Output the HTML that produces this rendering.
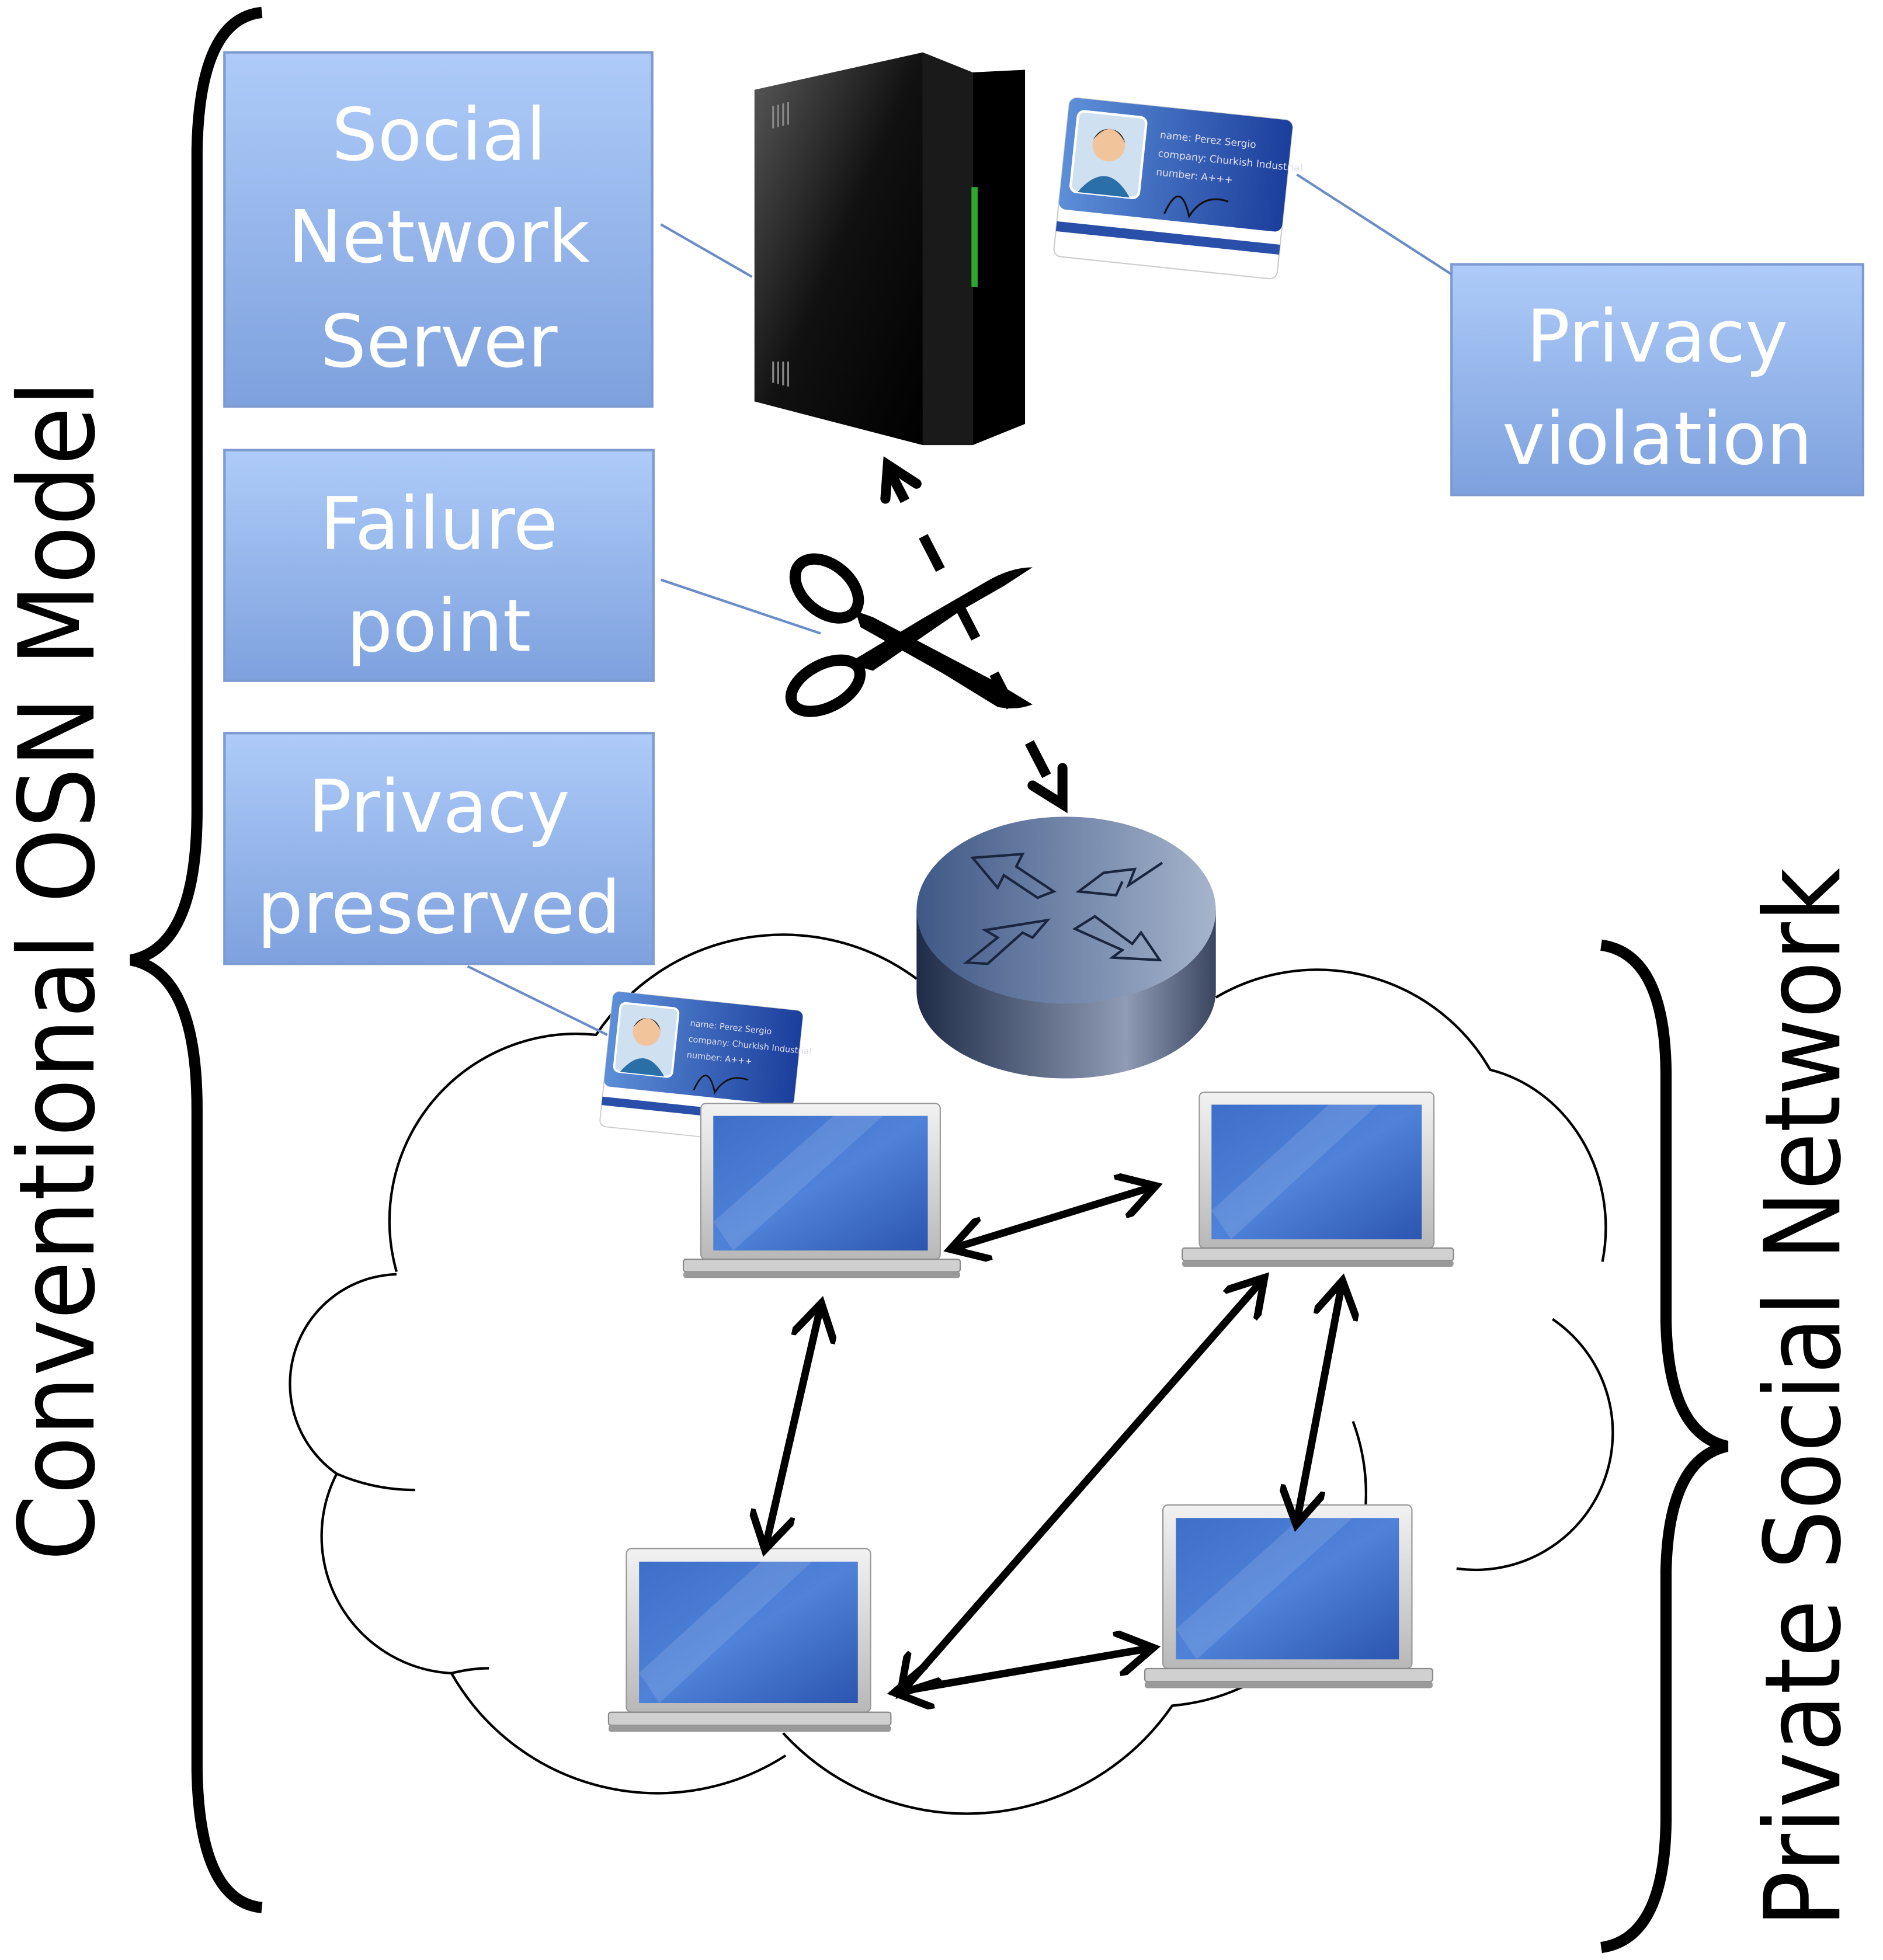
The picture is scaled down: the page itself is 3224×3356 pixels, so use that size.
<!DOCTYPE html>
<html><head><meta charset="utf-8"><style>
html,body{margin:0;padding:0;background:#fff}
svg{display:block}
text{font-family:"DejaVu Sans","Liberation Sans",sans-serif}
</style></head><body>
<svg width="3224" height="3356" viewBox="0 0 1510 1572" preserveAspectRatio="none" xmlns="http://www.w3.org/2000/svg">
<defs>
<linearGradient id="box" x1="0" y1="0" x2="0" y2="1"><stop offset="0" stop-color="#aecbf8"/><stop offset="1" stop-color="#7ea1de"/></linearGradient>
<linearGradient id="srv" x1="0" y1="0" x2="1" y2="1"><stop offset="0" stop-color="#5a5a5a"/><stop offset="0.5" stop-color="#111"/><stop offset="1" stop-color="#000"/></linearGradient>
<linearGradient id="scr" x1="0" y1="0" x2="1" y2="1"><stop offset="0" stop-color="#3d6fc9"/><stop offset="0.5" stop-color="#4f82d8"/><stop offset="1" stop-color="#2c55b0"/></linearGradient>
<linearGradient id="frm" x1="0" y1="0" x2="0" y2="1"><stop offset="0" stop-color="#f2f2f2"/><stop offset="1" stop-color="#b8b8b8"/></linearGradient>
<linearGradient id="rtop" x1="0" y1="0" x2="1" y2="0"><stop offset="0" stop-color="#3f5886"/><stop offset="1" stop-color="#a6b4cc"/></linearGradient>
<linearGradient id="rside" x1="0" y1="0" x2="1" y2="0"><stop offset="0" stop-color="#1f2c48"/><stop offset="0.7" stop-color="#8f9bb4"/><stop offset="1" stop-color="#3a4560"/></linearGradient>
<linearGradient id="card" x1="0" y1="0" x2="1" y2="0"><stop offset="0" stop-color="#5d8fd8"/><stop offset="1" stop-color="#1b3e9c"/></linearGradient>
<g id="laptop">
<rect x="14" y="0" width="192" height="125" rx="4" fill="url(#frm)" stroke="#999" stroke-width="1"/>
<rect x="24" y="10" width="172" height="108" fill="url(#scr)"/>
<path d="M24 95 L120 10 L160 10 L40 118 Z" fill="#fff" opacity="0.12"/>
<rect x="0" y="125" width="222" height="10" rx="2" fill="#d0d0d0" stroke="#888" stroke-width="1"/>
<rect x="0" y="135" width="222" height="5" rx="2" fill="#999"/>
</g>
<g id="idcard">
<g transform="rotate(6)">
<rect x="0" y="0" width="180" height="128" rx="6" fill="#fff" stroke="#ccc"/>
<rect x="0" y="0" width="180" height="90" rx="6" fill="url(#card)"/>
<rect x="8" y="10" width="55" height="65" rx="5" fill="#cfe0f0" stroke="#fff" stroke-width="2"/>
<circle cx="35" cy="35" r="13" fill="#f2c49b"/>
<path d="M22 32 Q35 12 48 32 Q44 22 35 22 Q26 22 22 32Z" fill="#222"/>
<path d="M14 75 Q35 45 56 75Z" fill="#2a6fa8"/>
<text x="75" y="25" font-size="8" fill="#dde">name: Perez Sergio</text>
<text x="75" y="40" font-size="8" fill="#dde">company: Churkish Industrial</text>
<text x="75" y="55" font-size="8" fill="#dde">number: A+++</text>
<path d="M85 85 q10 -30 20 0 q10 -20 30 -15" stroke="#111" fill="none" stroke-width="1.5"/>
<rect x="0" y="100" width="180" height="8" fill="#2a4fa8"/>
</g>
</g>
<marker id="ah" markerWidth="6" markerHeight="6" refX="4.5" refY="3" orient="auto-start-reverse" markerUnits="strokeWidth"><path d="M0 0 L5 3 L0 6" fill="none" stroke="#000" stroke-width="1"/></marker>
</defs>

<!-- left brace -->
<path d="M210 10 Q160 15 158 120 L158 650 Q158 760 105 770 Q158 780 158 890 L158 1420 Q160 1525 210 1530" fill="none" stroke="#000" stroke-width="9"/>
<text transform="translate(75,1252) rotate(-90)" font-size="84" fill="#000" textLength="947" lengthAdjust="spacingAndGlyphs">Conventional OSN Model</text>

<!-- right brace -->
<path d="M1284 758 Q1335 765 1336 860 L1336 1060 Q1338 1150 1385 1160 Q1338 1170 1336 1260 L1336 1460 Q1335 1555 1284 1562" fill="none" stroke="#000" stroke-width="9"/>
<text transform="translate(1475,1546) rotate(-90)" font-size="84" fill="#000" textLength="850" lengthAdjust="spacingAndGlyphs">Private Social Network</text>

<!-- cloud -->
<path d="M318 1020 A150 150 0 0 1 478 830 A180 180 0 0 1 735 785 M975 800 A160 160 0 0 1 1195 858 A120 130 0 0 1 1285 1012 M1245 1058 A110 110 0 0 1 1168 1258 M1085 1140 A170 170 0 0 1 940 1368 A200 200 0 0 1 628 1390 M630 1408 A190 190 0 0 1 362 1342 A110 110 0 0 1 270 1182 A88 88 0 0 1 318 1022" fill="none" stroke="#000" stroke-width="2"/>
<path d="M270 1182 Q300 1195 333 1195" fill="none" stroke="#000" stroke-width="2"/>
<path d="M362 1342 Q378 1338 392 1338" fill="none" stroke="#000" stroke-width="2"/>

<!-- boxes -->
<g stroke="#7d9bd0" stroke-width="2" fill="url(#box)">
<rect x="180" y="42" width="343" height="284"/>
<rect x="180" y="361" width="344" height="185"/>
<rect x="180" y="588" width="344" height="185"/>
<rect x="1164" y="212" width="330" height="185"/>
</g>
<g fill="#fff" font-size="58" text-anchor="middle" font-family="Liberation Sans, sans-serif">
<text x="352" y="128">Social</text>
<text x="352" y="210">Network</text>
<text x="352" y="294">Server</text>
<text x="352" y="440">Failure</text>
<text x="352" y="522">point</text>
<text x="352" y="667">Privacy</text>
<text x="352" y="748">preserved</text>
<text x="1329" y="290">Privacy</text>
<text x="1329" y="372">violation</text>
</g>

<!-- connector lines -->
<g stroke="#6a8cc8" stroke-width="2">
<line x1="530" y1="180" x2="603" y2="222"/>
<line x1="1040" y1="140" x2="1164" y2="220"/>
<line x1="530" y1="465" x2="658" y2="508"/>
<line x1="375" y1="775" x2="487" y2="830"/>
</g>

<!-- server -->
<path d="M605 72 L740 42 L740 357 L605 322 Z" fill="url(#srv)"/>
<path d="M740 42 L780 58 L780 357 L740 357Z" fill="#1a1a1a"/>
<path d="M780 58 L822 56 L822 340 L780 357Z" fill="#000"/>
<rect x="779" y="150" width="5" height="80" fill="#2ea82e"/>
<g stroke="#888" stroke-width="1.5"><line x1="620" y1="85" x2="620" y2="103"/><line x1="624" y1="84" x2="624" y2="102"/><line x1="628" y1="83" x2="628" y2="101"/><line x1="632" y1="82" x2="632" y2="100"/><line x1="620" y1="290" x2="620" y2="307"/><line x1="624" y1="290" x2="624" y2="308"/><line x1="628" y1="290" x2="628" y2="309"/><line x1="632" y1="290" x2="632" y2="310"/></g>

<!-- id cards -->
<use href="#idcard" transform="translate(858,78)"/>
<use href="#idcard" transform="translate(492,795) scale(0.85,0.85)"/>

<!-- dashed arrow -->
<line x1="712" y1="375" x2="851" y2="645" stroke="#000" stroke-width="8" stroke-dasharray="30,32" />
<path d="M710 400 L712 373 L735 388" fill="none" stroke="#000" stroke-width="8" stroke-linecap="round"/>
<path d="M828 630 L852 645 L852 616" fill="none" stroke="#000" stroke-width="8" stroke-linecap="round"/>

<!-- scissors -->
<g fill="#000">
<ellipse cx="663" cy="472" rx="29" ry="19" transform="rotate(40 663 472)" fill="#fff" stroke="#000" stroke-width="9"/>
<path d="M686 490 L700 495 L795 545 L828 565 Q815 570 800 567 L756 540 L690 503 Z"/>
<path d="M680 532 L740 496 L790 467 Q810 455 828 455 L805 470 L770 490 L700 538 Z"/>
<ellipse cx="662" cy="550" rx="30" ry="17" transform="rotate(-28 662 550)" fill="#fff" stroke="#000" stroke-width="9"/>
</g>

<!-- router -->
<path d="M735 730 L735 795 A120 70 0 0 0 975 795 L975 730 Z" fill="url(#rside)"/>
<ellipse cx="855" cy="730" rx="120" ry="75" fill="url(#rtop)"/>
<g fill="none" stroke="#1a2540" stroke-width="2">
<path d="M780 688 L820 685 L815 695 L845 715 L832 720 L805 702 L800 712 Z"/>
<path d="M932 692 L905 710 L910 697 L885 700 L865 715 L895 718 L900 707"/>
<path d="M775 772 L800 752 L790 746 L840 738 L828 752 L820 748 L792 773 Z"/>
<path d="M862 745 L878 735 L908 757 L915 748 L930 770 L892 768 L900 762 Z"/>
</g>

<!-- laptops -->
<use href="#laptop" transform="translate(548,885)"/>
<use href="#laptop" transform="translate(948,876) scale(0.98,1.0)"/>
<use href="#laptop" transform="translate(488,1242) scale(1.02,1.05)"/>
<use href="#laptop" transform="translate(918,1207) scale(1.04,1.05)"/>

<!-- arrows -->
<g stroke="#000" stroke-width="6" marker-start="url(#ah)" marker-end="url(#ah)">
<line x1="765" y1="1001" x2="924" y2="952"/>
<line x1="658" y1="1048" x2="614" y2="1240"/>
<line x1="1012" y1="1027" x2="724" y2="1356"/>
<line x1="1076" y1="1030" x2="1040" y2="1220"/>
<line x1="720" y1="1357" x2="922" y2="1322"/>
</g>
</svg>
</body></html>
